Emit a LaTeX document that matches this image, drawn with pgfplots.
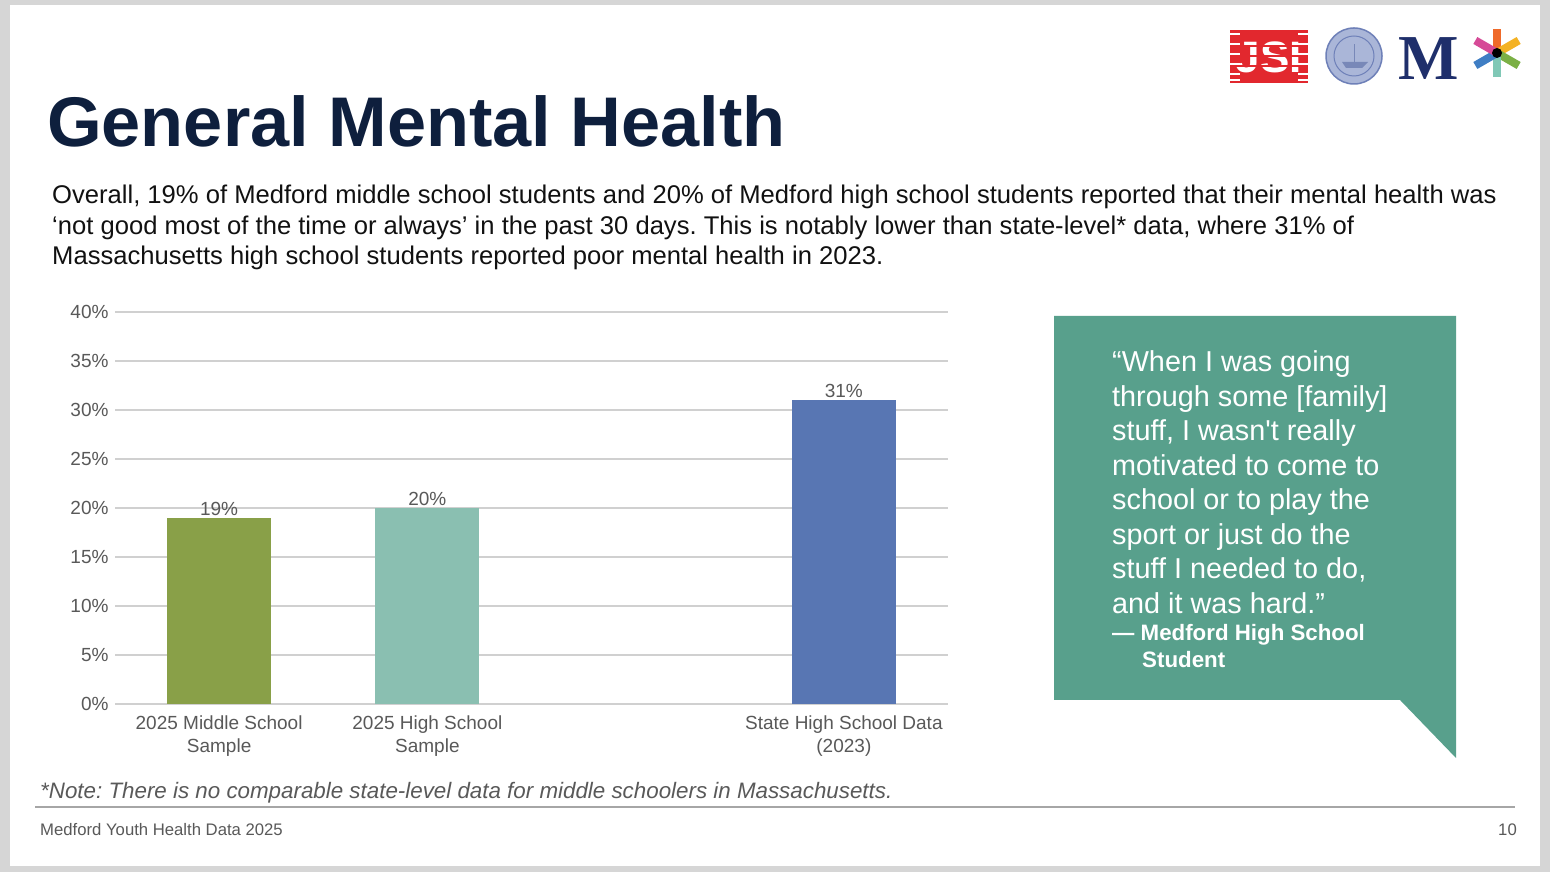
\documentclass[border=0pt]{standalone}
\usepackage{pgfplots}
\pgfplotsset{compat=1.18}
\usepackage{fontspec}
\setmainfont{Liberation Sans}
\newfontfamily\serifbold{Liberation Serif}
\frenchspacing
\definecolor{framegray}{HTML}{D6D6D6}
\definecolor{titlenavy}{HTML}{0E1F3D}
\definecolor{bodytext}{HTML}{111111}
\definecolor{tickgray}{HTML}{595959}
\definecolor{gridgray}{HTML}{D0D0D0}
\definecolor{cgreen}{HTML}{89A048}
\definecolor{cteal}{HTML}{8ABFB1}
\definecolor{cblue}{HTML}{5876B3}
\definecolor{quoteteal}{HTML}{58A08C}
\definecolor{jsired}{HTML}{E2282E}
\definecolor{mnavy}{HTML}{1F2F6B}
\definecolor{sealfill}{RGB}{170,182,216}
\definecolor{sealline}{RGB}{110,128,184}
\definecolor{sealship}{RGB}{120,136,184}
\definecolor{aorange}{RGB}{239,106,42}
\definecolor{ayellow}{RGB}{244,178,35}
\definecolor{agreen}{RGB}{123,176,69}
\definecolor{ateal}{RGB}{128,200,182}
\definecolor{ablue}{RGB}{63,126,196}
\definecolor{apink}{RGB}{214,74,151}
\begin{document}
\begin{tikzpicture}[x=1pt,y=1pt]
% slide frame
\fill[framegray] (0,0) rectangle (1550,872);
\fill[white] (10,6) rectangle (1540,867);
% title
\node[anchor=base west, inner sep=0, text=titlenavy, font=\fontsize{70.3}{84}\selectfont\bfseries] at (47,{872-147}) {General Mental Health};
% paragraph
\begin{scope}[every node/.style={anchor=base west, inner sep=0, text=bodytext, font=\fontsize{25.6}{30}\selectfont}]
\node at (52,{872-204}) {Overall, 19\% of Medford middle school students and 20\% of Medford high school students reported that their mental health was};
\node at (52,{872-235}) {‘not good most of the time or always’ in the past 30 days. This is notably lower than state-level* data, where 31\% of};
\node at (52,{872-265}) {Massachusetts high school students reported poor mental health in 2023.};
\end{scope}
% chart
\begin{axis}[
  at={(115pt,168pt)}, anchor=south west,
  scale only axis, width=833pt, height=392pt,
  xmin=-0.5, xmax=3.5, ymin=0, ymax=40,
  ybar, bar width=104pt,
  axis line style={draw=none},
  major tick length=0pt,
  ytick={0,5,...,40},
  yticklabel={\pgfmathprintnumber{\tick}\%},
  /pgf/number format/assume math mode=true,
  ymajorgrids, grid style={gridgray, line width=2pt},
  xtick={0,1,2,3},
  xticklabels={{2025 Middle School\\Sample},{2025 High School\\Sample},{},{State High School Data\\(2023)}},
  xticklabel style={align=center, text=tickgray, font=\fontsize{19}{23}\selectfont, yshift=-8pt},
  yticklabel style={text=tickgray, font=\fontsize{19}{23}\selectfont, xshift=-3pt},
  nodes near coords={\pgfmathprintnumber{\pgfplotspointmeta}\%},
  every node near coord/.append style={text=tickgray, font=\fontsize{19}{23}\selectfont, inner sep=2pt},
  clip=false,
]
\addplot[fill=cgreen, draw=none, bar shift=0pt] coordinates {(0,19)};
\addplot[fill=cteal, draw=none, bar shift=0pt] coordinates {(1,20)};
\addplot[fill=cblue, draw=none, bar shift=0pt] coordinates {(3,31)};
\end{axis}
% quote box
\fill[quoteteal] (1054,{872-316}) -- (1456,{872-316}) -- (1456,{872-758}) -- (1400,{872-700}) -- (1054,{872-700}) -- cycle;
\begin{scope}[every node/.style={anchor=base west, inner sep=0, text=white, font=\fontsize{28.8}{34}\selectfont}]
\node at (1112,{872-372}) {“When I was going};
\node at (1112,{872-406.5}) {through some [family]};
\node at (1112,{872-441}) {stuff, I wasn\textquotesingle t really};
\node at (1112,{872-475.5}) {motivated to come to};
\node at (1112,{872-510}) {school or to play the};
\node at (1112,{872-544.5}) {sport or just do the};
\node at (1112,{872-579}) {stuff I needed to do,};
\node at (1112,{872-613.5}) {and it was hard.”};
\end{scope}
\begin{scope}[every node/.style={anchor=base west, inner sep=0, text=white, font=\fontsize{22.3}{26}\selectfont\bfseries}]
\node at (1112,{872-641}) {— Medford High School};
\node at (1142,{872-668}) {Student};
\end{scope}
% note and footer
\node[anchor=base west, inner sep=0, text=tickgray, font=\fontsize{22.35}{26}\selectfont\itshape] at (40,{872-799}) {*Note: There is no comparable state-level data for middle schoolers in Massachusetts.};
\draw[color=black!35, line width=2pt] (35,{872-807}) -- (1515,{872-807});
\node[anchor=base west, inner sep=0, text=tickgray, font=\fontsize{16.7}{20}\selectfont] at (40,{872-836}) {Medford Youth Health Data 2025};
\node[anchor=base east, inner sep=0, text=tickgray, font=\fontsize{16.7}{20}\selectfont] at (1517,{872-836}) {10};
% logos
\fill[jsired] (1230,{872-30}) rectangle (1308,{872-83});
\node[text=white, font=\fontsize{44}{48}\selectfont\bfseries, inner sep=0, anchor=base] at (1269,{872-73}) {JSI};
\foreach \yy in {36,46,56,66,76} {\draw[jsired, line width=1.6pt] (1230,{872-\yy}) -- (1308,{872-\yy});}
\foreach \yy in {34,44,54,64,74,80} {\draw[white, line width=1.2pt] (1230,{872-\yy}) -- (1240,{872-\yy}) (1298,{872-\yy}) -- (1308,{872-\yy});}
\filldraw[fill=sealfill, draw=sealline, line width=1.5pt] (1354,{872-56}) circle (28);
\draw[sealline, line width=1pt] (1354,{872-56}) circle (20);
\fill[sealship] (1342,{872-62}) -- (1368,{872-62}) -- (1362,{872-68}) -- (1346,{872-68}) -- cycle;
\draw[sealship, line width=1pt] (1354,{872-62}) -- (1354,{872-44});
\node[text=mnavy, font=\fontsize{64}{70}\selectfont, inner sep=0, anchor=base] at (1429,{872-80}) {\serifbold\bfseries M};
\begin{scope}[line width=8pt]
\draw[aorange] (1497,{872-53}) -- ++(90:24);
\draw[ayellow] (1497,{872-53}) -- ++(30:25);
\draw[agreen] (1497,{872-53}) -- ++(-30:25);
\draw[ateal] (1497,{872-53}) -- ++(-90:24);
\draw[ablue] (1497,{872-53}) -- ++(-150:25);
\draw[apink] (1497,{872-53}) -- ++(150:25);
\end{scope}
\fill[black] (1497,{872-53}) circle (5);
\end{tikzpicture}
\end{document}
